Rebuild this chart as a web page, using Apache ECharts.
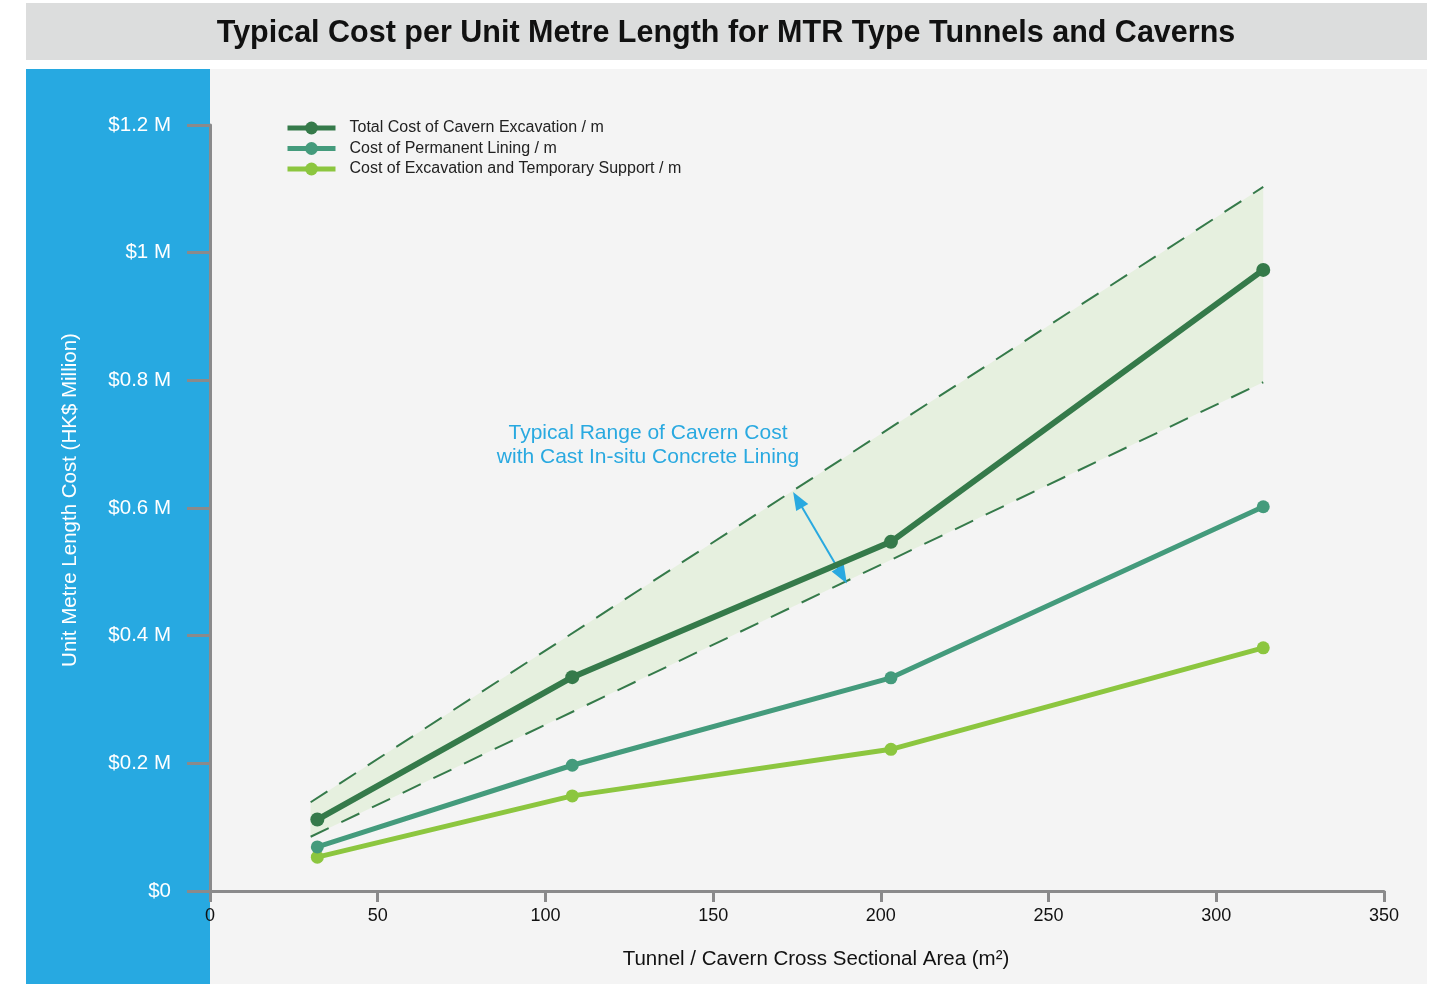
<!DOCTYPE html>
<html>
<head>
<meta charset="utf-8">
<script src="https://cdn.jsdelivr.net/npm/echarts@6/dist/echarts.min.js"></script>
<style>
html,body{margin:0;padding:0;background:#ffffff;}
#chart{width:1441px;height:984px;}
</style>
</head>
<body>
<div id="chart"></div>
<script>
// ---- data ----
const areaX = [32, 108, 203, 314];
const totalCost = [0.112, 0.335, 0.547, 0.973];
const liningCost = [0.069, 0.197, 0.334, 0.602];
const excavationCost = [0.053, 0.149, 0.222, 0.381];
const bandX = [30, 314];
const bandUpper = [0.139, 1.103];
const bandLower = [0.085, 0.797];
const arrowFrom = [175.2, 0.613];
const arrowTo = [188.5, 0.494];
const yTickLabels = ['$0', '$0.2 M', '$0.4 M', '$0.6 M', '$0.8 M', '$1 M', '$1.2 M'];
const seriesNames = ['Total Cost of Cavern Excavation / m', 'Cost of Permanent Lining / m', 'Cost of Excavation and Temporary Support / m'];
const titleText = 'Typical Cost per Unit Metre Length for MTR Type Tunnels and Caverns';

const FONT = '"Liberation Sans", Arial, Helvetica, sans-serif';
const C_TOTAL = '#357a4a', C_LINING = '#449b7c', C_EXC = '#8cc63f';
const AXIS = '#8a8a8b';

const pair = (xs, ys) => xs.map((x, i) => [x, ys[i]]);

const chart = echarts.init(document.getElementById('chart'));
const option = {
  backgroundColor: '#ffffff',
  animation: false,
  textStyle: { fontFamily: FONT },
  grid: { left: 210, right: 57, top: 125, bottom: 93, containLabel: false },
  legend: {
    left: 285, top: 120, padding: 0, orient: 'vertical', itemWidth: 48, itemHeight: 16, itemGap: 4.5,
    data: seriesNames,
    lineStyle: { width: 5 },
    textStyle: { fontFamily: FONT, fontSize: 16, color: '#222', padding: [0, 0, 0, 9] }
  },
  xAxis: {
    type: 'value', min: 0, max: 350, interval: 50,
    axisLine: { lineStyle: { color: AXIS, width: 3 } },
    axisTick: { length: 11, lineStyle: { color: AXIS, width: 3 } },
    axisLabel: { color: '#111', fontSize: 18, margin: 16, fontFamily: FONT },
    splitLine: { show: false }
  },
  yAxis: {
    type: 'value', min: 0, max: 1.2, interval: 0.2,
    axisLine: { show: true, lineStyle: { color: AXIS, width: 3 } },
    axisTick: { show: true, length: 23, lineStyle: { color: AXIS, width: 3 } },
    axisLabel: { color: '#ffffff', fontSize: 20.5, margin: 39, fontFamily: FONT,
      formatter: v => yTickLabels[Math.round(v / 0.2)] },
    splitLine: { show: false }
  },
  graphic: [
    { type: 'rect', z: -100, silent: true, shape: { x: 26, y: 3, width: 1401, height: 57 }, style: { fill: '#dcdddd' } },
    { type: 'rect', z: -100, silent: true, shape: { x: 26, y: 69, width: 184, height: 915 }, style: { fill: '#27a9e1' } },
    { type: 'rect', z: -100, silent: true, shape: { x: 210, y: 69, width: 1217, height: 915 }, style: { fill: '#f4f4f4' } },
    { type: 'text', z: 10, x: 726, y: 34, style: { text: titleText, fontFamily: FONT, fontSize: 30.5, fontWeight: 'bold', fill: '#111', align: 'center', verticalAlign: 'middle' } },
    { type: 'text', z: 10, x: 70, y: 500, rotation: Math.PI / 2, style: { text: 'Unit Metre Length Cost (HK$ Million)', fontFamily: FONT, fontSize: 20.5, fill: '#ffffff', align: 'center', verticalAlign: 'middle' } },
    { type: 'text', z: 10, x: 816, y: 959, style: { text: 'Tunnel / Cavern Cross Sectional Area (m²)', fontFamily: FONT, fontSize: 20.5, fill: '#111', align: 'center', verticalAlign: 'middle' } },
    { type: 'text', z: 10, x: 648, y: 445, style: { text: 'Typical Range of Cavern Cost\nwith Cast In-situ Concrete Lining', fontFamily: FONT, fontSize: 21, lineHeight: 24, fill: '#29a9e0', align: 'center', verticalAlign: 'middle' } }
  ],
  series: [
    {
      type: 'custom', name: 'band', z: 1, silent: true,
      data: [0],
      renderItem: (params, api) => {
        const pts = [];
        bandX.forEach((x, i) => pts.push(api.coord([x, bandUpper[i]])));
        for (let i = bandX.length - 1; i >= 0; i--) pts.push(api.coord([bandX[i], bandLower[i]]));
        return { type: 'polygon', shape: { points: pts }, style: { fill: '#e6f0df' } };
      }
    },
    {
      type: 'line', name: 'upper', z: 2, symbol: 'none', silent: true,
      data: pair(bandX, bandUpper),
      lineStyle: { color: C_TOTAL, width: 2, type: [20, 14] }
    },
    {
      type: 'line', name: 'lower', z: 2, symbol: 'none', silent: true,
      data: pair(bandX, bandLower),
      lineStyle: { color: C_TOTAL, width: 2, type: [20, 14] }
    },
    {
      type: 'line', name: seriesNames[2], z: 3, symbol: 'circle', symbolSize: 13,
      data: pair(areaX, excavationCost),
      itemStyle: { color: C_EXC }, lineStyle: { color: C_EXC, width: 5 }
    },
    {
      type: 'line', name: seriesNames[1], z: 4, symbol: 'circle', symbolSize: 13,
      data: pair(areaX, liningCost),
      itemStyle: { color: C_LINING }, lineStyle: { color: C_LINING, width: 5 }
    },
    {
      type: 'line', name: seriesNames[0], z: 5, symbol: 'circle', symbolSize: 14,
      data: pair(areaX, totalCost),
      itemStyle: { color: C_TOTAL }, lineStyle: { color: C_TOTAL, width: 6 },
      markLine: {
        silent: true, symbol: ['triangle', 'triangle'], symbolSize: [14, 18], label: { show: false },
        lineStyle: { color: '#29a9e0', width: 2, type: 'solid' },
        data: [[{ coord: arrowFrom }, { coord: arrowTo }]]
      }
    }
  ]
};
chart.setOption(option);
</script>
</body>
</html>
